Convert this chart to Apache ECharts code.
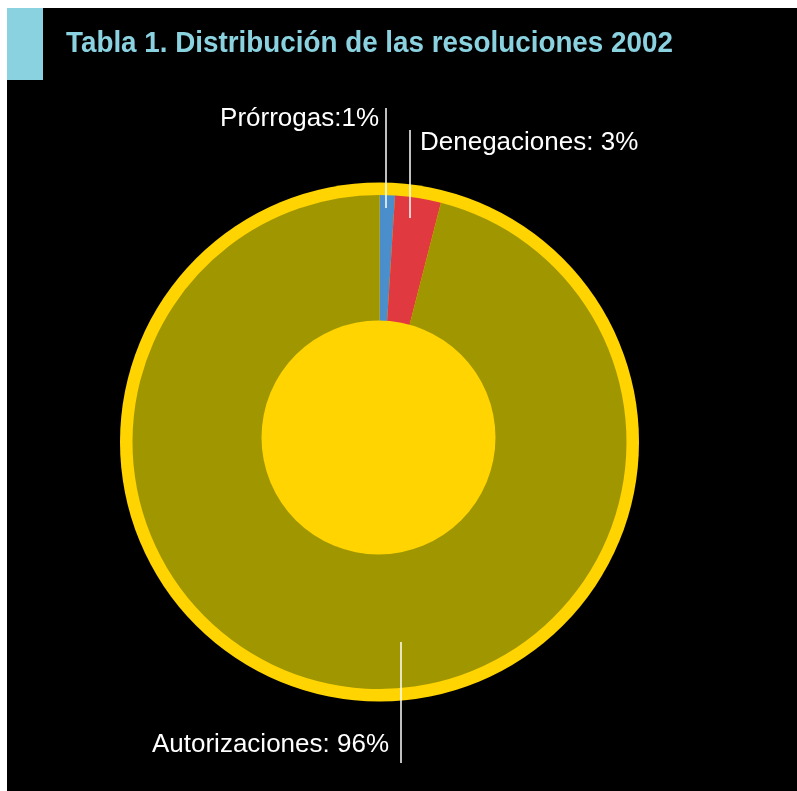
<!DOCTYPE html>
<html>
<head>
<meta charset="utf-8">
<script src="https://cdn.jsdelivr.net/npm/echarts@6/dist/echarts.min.js"></script>
<style>
html,body{margin:0;padding:0;background:#fff;}
#chart{width:797px;height:791px;}
</style>
</head>
<body>
<div id="chart"></div>
<script>
var titleText = 'Tabla 1. Distribución de las resoluciones 2002';
var categories = ['Prórrogas', 'Denegaciones', 'Autorizaciones'];
var values = [1, 3, 96];
var labelTexts = ['Prórrogas:1%', 'Denegaciones: 3%', 'Autorizaciones: 96%'];
var sliceColors = ['#4A8FCC', '#E0393F', '#A09600'];

var chart = echarts.init(document.getElementById('chart'), null, {renderer: 'canvas'});

var pieData = categories.map(function (c, i) {
  return {name: c, value: values[i], itemStyle: {color: sliceColors[i]}};
});
var labelData = categories.map(function (c, i) {
  return {name: c, value: values[i]};
});

var layouts = [
  {x: 379, y: 119, align: 'right', line: [[386, 108], [386, 208]]},
  {x: 420, y: 143, align: 'left', line: [[410, 130], [410, 218]]},
  {x: 389, y: 745, align: 'right', line: [[401, 642], [401, 763]]}
];

var option = {
  backgroundColor: '#000',
  animation: false,
  graphic: [
    {type: 'rect', x: 0, y: 0, shape: {width: 797, height: 8}, style: {fill: '#fff'}, z: 100},
    {type: 'rect', x: 0, y: 0, shape: {width: 7, height: 791}, style: {fill: '#fff'}, z: 100},
    {type: 'rect', x: 7, y: 8, shape: {width: 36, height: 72}, style: {fill: '#8AD2E0'}, z: 100},
    {type: 'text', x: 66, y: 29, scaleX: 0.927, originX: 0, originY: 0,
      style: {text: titleText, fill: '#8AD2E0', verticalAlign: 'top', align: 'left',
      font: 'bold 30px "Liberation Sans", Arial, sans-serif'}, z: 100}
  ],
  series: [
    {
      type: 'pie', silent: true, z: 1,
      center: [379.5, 442], radius: [0, 259.5],
      label: {show: false}, labelLine: {show: false},
      data: [{value: 1, itemStyle: {color: '#FFD400'}}]
    },
    {
      type: 'pie', silent: true, z: 2,
      center: [379.5, 442], radius: [0, 247],
      startAngle: 90, clockwise: true,
      data: pieData,
      label: {show: false}, labelLine: {show: false}
    },
    {
      type: 'pie', silent: true, z: 3,
      center: [378.5, 437.5], radius: [0, 117],
      label: {show: false}, labelLine: {show: false},
      data: [{value: 1, itemStyle: {color: '#FFD400'}}]
    },
    {
      type: 'pie', silent: true, z: 5,
      center: [379.5, 442], radius: [0, 247],
      startAngle: 90, clockwise: true,
      data: labelData,
      itemStyle: {color: 'rgba(0,0,0,0)'},
      label: {
        show: true,
        color: '#fff',
        fontSize: 26,
        fontFamily: '"Liberation Sans", Arial, sans-serif',
        formatter: function (p) { return labelTexts[p.dataIndex]; }
      },
      labelLine: {show: true, length: 20, length2: 20, smooth: false,
        lineStyle: {color: '#fff', width: 1.5}},
      labelLayout: function (p) {
        var l = layouts[p.dataIndex];
        return {x: l.x, y: l.y, align: l.align, verticalAlign: 'middle',
          labelLinePoints: l.line};
      }
    }
  ]
};
chart.setOption(option);
</script>
</body>
</html>
